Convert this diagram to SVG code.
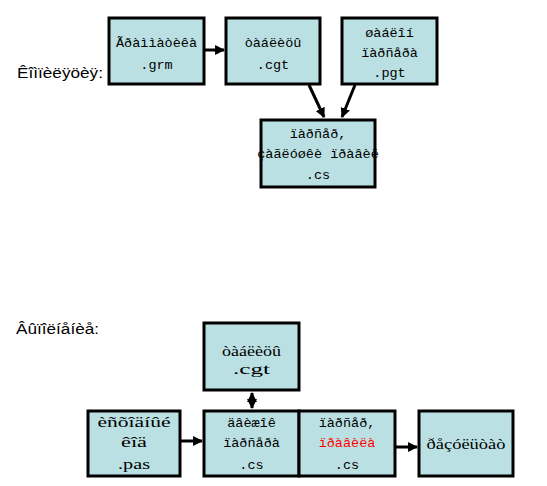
<svg xmlns="http://www.w3.org/2000/svg" width="547" height="486" viewBox="0 0 547 486">
<defs>
<marker id="ah" viewBox="0 0 10 10" refX="9" refY="5" markerWidth="3.3" markerHeight="3.3" orient="auto-start-reverse" markerUnits="strokeWidth">
<path d="M0,0 L10,5 L0,10 z" fill="#000"/>
</marker>
<style>
.box{fill:#BBE0E3;stroke:#000;stroke-width:3}
.m{font-family:"Liberation Mono","DejaVu Sans Mono",monospace;font-size:13.5px;fill:#000;text-anchor:middle}
.s{font-family:"Liberation Serif","DejaVu Serif",serif;font-size:15px;fill:#000;text-anchor:middle}
.lbl{font-family:"Liberation Sans",Arial,sans-serif;font-size:14px;fill:#000}
.c{stroke:#000;stroke-width:3;fill:none}
.red{fill:#FF0000}
</style>
</defs>
<rect width="547" height="486" fill="#fff"/>
<text class="lbl" x="17" y="78" textLength="86" lengthAdjust="spacingAndGlyphs">Êîìïèëÿöèÿ:</text>
<text class="lbl" x="16" y="334" textLength="83" lengthAdjust="spacingAndGlyphs">Âûïîëíåíèå:</text>
<g id="connectors">
<line class="c" x1="204" y1="50" x2="224" y2="50" marker-end="url(#ah)"/>
<line class="c" x1="309" y1="85" x2="324" y2="117" marker-end="url(#ah)"/>
<line class="c" x1="355" y1="85" x2="342" y2="117" marker-end="url(#ah)"/>
<line class="c" x1="252" y1="393" x2="252" y2="408" marker-start="url(#ah)" marker-end="url(#ah)"/>
<line class="c" x1="180" y1="441" x2="202" y2="441" marker-end="url(#ah)"/>
<line class="c" x1="395" y1="447" x2="417" y2="447" marker-end="url(#ah)"/>
</g>
<g id="n1"><rect class="box" x="109" y="18" width="95" height="66"/>
<text class="m" x="156.5" y="47">Ãðàììàòèêà</text><text class="m" x="156.5" y="69">.grm</text></g>
<g id="n2"><rect class="box" x="226" y="18" width="94" height="66"/>
<text class="m" x="273" y="47">òàáëèöû</text><text class="m" x="273" y="69">.cgt</text></g>
<g id="n3"><rect class="box" x="342" y="18" width="95" height="66"/>
<text class="m" x="389.5" y="37">øàáëîí</text><text class="m" x="389.5" y="57">ïàðñåðà</text><text class="m" x="389.5" y="77">.pgt</text></g>
<g id="n4"><rect class="box" x="261" y="120" width="114" height="67"/>
<text class="m" x="318" y="138">ïàðñåð,</text><text class="m" x="318" y="158">çàãëóøêè ïðàâèë</text><text class="m" x="318" y="179">.cs</text></g>
<g id="n5"><rect class="box" x="204" y="323" width="95" height="67"/>
<text class="s" x="251.5" y="356" textLength="59" lengthAdjust="spacingAndGlyphs">òàáëèöû</text><text class="s" x="251.5" y="374" textLength="37" lengthAdjust="spacingAndGlyphs">.cgt</text></g>
<g id="n6"><rect class="box" x="88" y="411" width="92" height="65"/>
<text class="s" x="134" y="427" textLength="73" lengthAdjust="spacingAndGlyphs">èñõîäíûé</text><text class="s" x="134" y="447" textLength="26" lengthAdjust="spacingAndGlyphs">êîä</text><text class="s" x="134" y="469" textLength="32" lengthAdjust="spacingAndGlyphs">.pas</text></g>
<g id="n7"><rect class="box" x="204" y="411" width="95" height="65"/>
<text class="m" x="251.5" y="427">äâèæîê</text><text class="m" x="251.5" y="447">ïàðñåðà</text><text class="m" x="251.5" y="469">.cs</text></g>
<g id="n8"><rect class="box" x="299" y="411" width="96" height="65"/>
<text class="m" x="347" y="427">ïàðñåð,</text><text class="m red" x="347" y="447">ïðàâèëà</text><text class="m" x="347" y="469">.cs</text></g>
<g id="n9"><rect class="box" x="419" y="411" width="94" height="65"/>
<text class="s" x="466" y="449" textLength="79" lengthAdjust="spacingAndGlyphs">ðåçóëüòàò</text></g>
</svg>
